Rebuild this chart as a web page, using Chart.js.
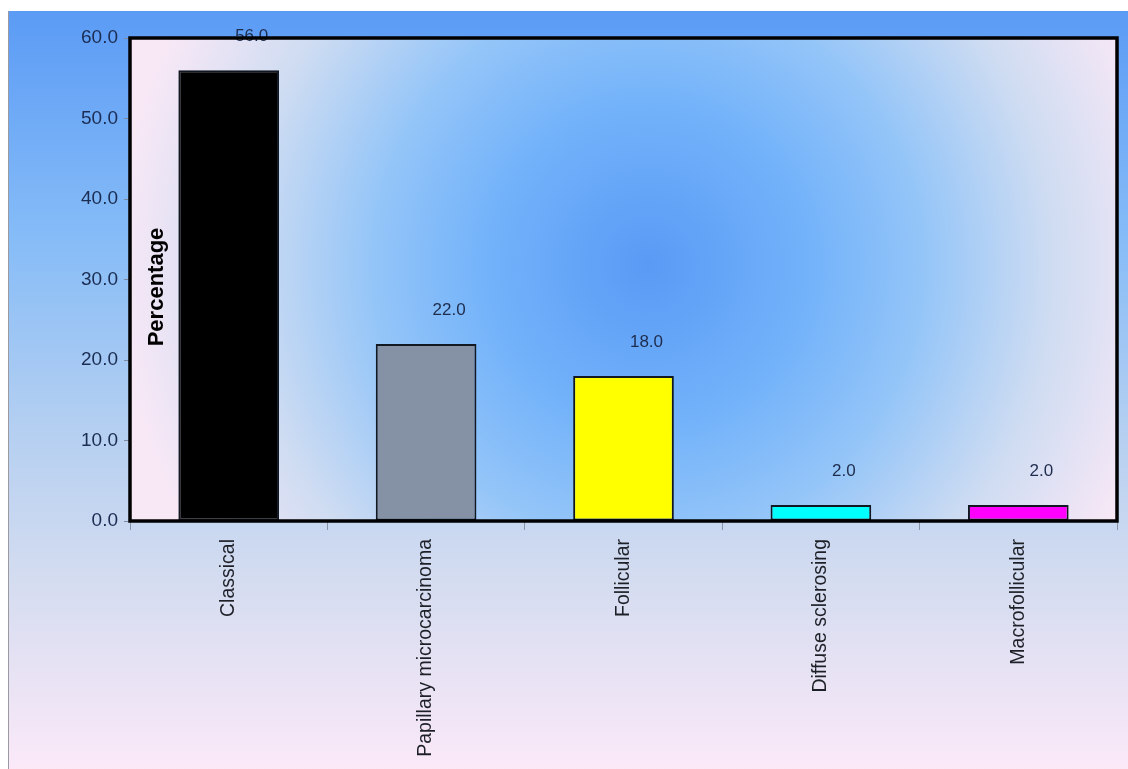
<!DOCTYPE html>
<html>
<head>
<meta charset="utf-8">
<title>Histological subtypes</title>
<script src="https://cdn.jsdelivr.net/npm/chart.js@4/dist/chart.umd.min.js"></script>
<style>
  html, body { margin: 0; padding: 0; background: #ffffff; }
  #chart { display: block; }
</style>
</head>
<body>
<canvas id="chart" width="1128" height="769"></canvas>
<script>
// Subtype categories and their share of cases (%)
const categories = ['Classical', 'Papillary microcarcinoma', 'Follicular', 'Diffuse sclerosing', 'Macrofollicular'];
const percentages = [56.0, 22.0, 18.0, 2.0, 2.0];
const barColors = ['#000000', '#8592a6', '#ffff00', '#00ffff', '#ff00ff'];
const yTicks = [0, 10, 20, 30, 40, 50, 60];
const yTitle = 'Percentage';

const FONT = "'Liberation Sans', Arial, sans-serif";

// Page and plot backgrounds, frame, value labels and the inner axis title
const decor = {
  id: 'decor',
  beforeDraw(chart) {
    const { ctx, width, height, chartArea: a } = chart;
    ctx.save();
    ctx.fillStyle = '#ffffff';
    ctx.fillRect(0, 0, width, height);
    const bg = ctx.createLinearGradient(0, 11, 0, height);
    bg.addColorStop(0, '#5b9bf5');
    bg.addColorStop(0.3, '#86bcf7');
    bg.addColorStop(0.55, '#b4cff1');
    bg.addColorStop(0.75, '#d4dcf0');
    bg.addColorStop(1, '#fbe9f8');
    ctx.fillStyle = bg;
    ctx.fillRect(9, 11, width - 9, height - 11);
    ctx.fillStyle = '#9a9aa0';
    ctx.fillRect(8, 11, 1, height - 11);

    const cx = a.left + (a.right - a.left) * 0.525;
    const cy = a.top + (a.bottom - a.top) * 0.47;
    const rg = ctx.createRadialGradient(cx, cy, 0, cx, cy, 530);
    rg.addColorStop(0, '#5a9af5');
    rg.addColorStop(0.3, '#72b2fa');
    rg.addColorStop(0.52, '#94c5f8');
    rg.addColorStop(0.76, '#cedcf2');
    rg.addColorStop(1, '#f8e8f6');
    ctx.fillStyle = rg;
    ctx.fillRect(a.left, a.top, a.right - a.left, a.bottom - a.top);
    ctx.restore();
  },
  afterDatasetsDraw(chart) {
    const { ctx, chartArea: a } = chart;
    const meta = chart.getDatasetMeta(0);
    ctx.save();
    // value labels
    ctx.font = '17px ' + FONT;
    ctx.fillStyle = '#1d2c4c';
    ctx.textAlign = 'center';
    ctx.textBaseline = 'middle';
    meta.data.forEach((bar, i) => {
      ctx.fillText(percentages[i].toFixed(1), bar.x + 23, bar.y - 34);
    });
    // frame
    ctx.strokeStyle = '#000000';
    ctx.lineWidth = 3.5;
    ctx.strokeRect(a.left, a.top, a.right - a.left, a.bottom - a.top);
    // axis title inside the plot
    ctx.font = 'bold 22px ' + FONT;
    ctx.fillStyle = '#000000';
    ctx.translate(a.left + 27, 287);
    ctx.rotate(-Math.PI / 2);
    ctx.fillText(yTitle, 0, 0);
    ctx.restore();
  }
};

new Chart(document.getElementById('chart'), {
  type: 'bar',
  data: {
    labels: categories,
    datasets: [{
      data: percentages,
      backgroundColor: barColors,
      borderColor: '#111822',
      borderWidth: 2,
      borderSkipped: false,
      barPercentage: 0.51,
      categoryPercentage: 1.0
    }]
  },
  plugins: [decor],
  options: {
    responsive: false,
    animation: false,
    events: [],
    layout: { padding: { top: 38, right: 11, left: 0, bottom: 0 } },
    plugins: {
      legend: { display: false },
      tooltip: { enabled: false }
    },
    scales: {
      x: {
        afterFit(scale) { scale.height = 248; },
        border: { display: false },
        grid: {
          drawOnChartArea: false,
          drawTicks: true,
          tickLength: 9,
          color: '#8a96a8',
          offset: true
        },
        ticks: {
          minRotation: 90,
          maxRotation: 90,
          padding: 9,
          color: '#1e2028',
          font: { family: FONT, size: 19.5 }
        }
      },
      y: {
        min: 0,
        max: 60,
        afterFit(scale) { scale.width = 130; },
        afterBuildTicks(scale) { scale.ticks = yTicks.map(v => ({ value: v })); },
        border: { display: false },
        grid: {
          drawOnChartArea: false,
          drawTicks: true,
          tickLength: 6,
          color: '#7d8aa0'
        },
        ticks: {
          padding: 6,
          color: '#1b2d52',
          font: { family: FONT, size: 19 },
          callback: v => Number(v).toFixed(1)
        }
      }
    }
  }
});
</script>
</body>
</html>
